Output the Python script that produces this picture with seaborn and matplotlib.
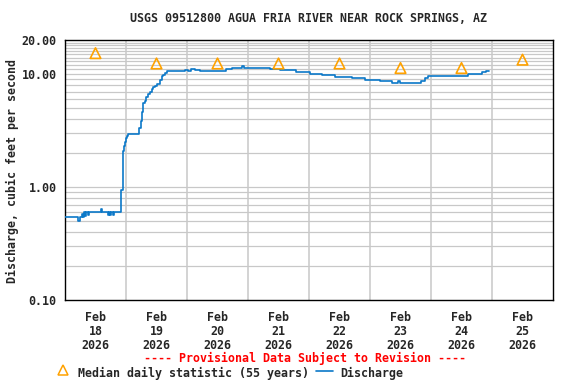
import matplotlib
matplotlib.use("Agg")
import matplotlib.pyplot as plt
from matplotlib.lines import Line2D
import seaborn as sns
import pandas as pd
import numpy as np

# ---- data (hours since Feb 18 2026 00:00) ----
discharge_hours = [0.0, 5.1, 5.9, 6.7, 7.1, 7.5, 7.9, 8.3, 9.1, 9.5, 10.6, 11.0, 14.2, 14.6,
                   16.9, 17.3, 17.7, 18.1, 18.9, 19.3, 22.0, 22.8, 23.2, 23.6, 24.0, 24.4,
                   24.8, 29.1, 29.9, 30.3, 30.7, 31.5, 31.9, 32.7, 33.4, 34.2, 34.6, 35.4,
                   36.2, 37.4, 38.2, 38.6, 39.3, 40.1, 40.5, 44.5, 47.2, 48.4, 49.6, 51.1,
                   53.1, 58.6, 61.0, 63.3, 65.7, 69.6, 70.4, 75.1, 77.5, 80.7, 84.6, 88.5,
                   90.9, 96.4, 101.1, 106.2, 112.9, 118.0, 123.9, 128.6, 130.9, 131.8,
                   138.5, 140.1, 141.6, 142.8, 153.4, 158.6, 164.1, 165.6, 166.8]
discharge_cfs = [0.54, 0.50, 0.54, 0.58, 0.54, 0.60, 0.55, 0.60, 0.56, 0.60, 0.60, 0.60, 0.64, 0.60,
                 0.56, 0.60, 0.56, 0.60, 0.56, 0.60, 0.94, 2.1, 2.3, 2.5, 2.7, 2.8,
                 2.95, 3.3, 3.8, 4.6, 5.5, 5.8, 6.2, 6.7, 7.0, 7.3, 7.6, 7.9,
                 8.2, 8.9, 9.6, 9.9, 10.3, 10.6, 10.7, 10.7, 10.9, 10.7, 11.1, 10.8,
                 10.6, 10.7, 10.7, 11.1, 11.4, 11.7, 11.4, 11.4, 11.2, 11.0, 10.8, 10.8,
                 10.4, 10.1, 9.8, 9.5, 9.2, 8.9, 8.7, 8.4, 8.7, 8.3,
                 8.3, 8.6, 9.3, 9.6, 9.6, 10.0, 10.4, 10.6, 10.7]
median_hours = [12, 36, 60, 84, 108, 132, 156, 180]
median_cfs = [15.3, 12.4, 12.4, 12.4, 12.4, 11.3, 11.3, 13.4]
day_labels = ["Feb\n18\n2026", "Feb\n19\n2026", "Feb\n20\n2026", "Feb\n21\n2026",
              "Feb\n22\n2026", "Feb\n23\n2026", "Feb\n24\n2026", "Feb\n25\n2026"]
y_tick_values = [0.1, 1.0, 10.0, 20.0]
y_tick_labels = ["0.10", "1.00", "10.00", "20.00"]

sns.set_style("white")
plt.rcParams["font.family"] = ["DejaVu Sans Mono"]
plt.rcParams["font.weight"] = "bold"
FS = 8.4

W, H = 576, 384
fig = plt.figure(figsize=(W / 100, H / 100), dpi=100)
ax = fig.add_axes([65 / W, 1 - 300 / H, 488 / W, 260 / H])

BLUE = "#0b78c8"
ORANGE = "#ffa200"
GRID = "#c8c8c8"

ax.set_yscale("log")
ax.set_ylim(0.1, 20)
ax.set_xlim(0, 192)

# grid
minor = [v * d for d in (0.1, 1.0) for v in range(2, 10)] + list(range(11, 20))
for v in minor + [1.0, 10.0]:
    ax.axhline(v, color=GRID, lw=0.9, zorder=0)
for d in range(1, 8):
    ax.axvline(d * 24, color=GRID, lw=1.1, zorder=0)

df = pd.DataFrame({"hours": discharge_hours, "cfs": discharge_cfs})
sns.lineplot(data=df, x="hours", y="cfs", ax=ax, color=BLUE, lw=1.2,
             drawstyle="steps-post", zorder=3)

md = pd.DataFrame({"hours": median_hours, "cfs": median_cfs})
sns.scatterplot(data=md, x="hours", y="cfs", ax=ax, marker="^", s=58,
                facecolors="none", edgecolor=ORANGE, linewidth=1.2, zorder=4)

ax.set_yticks(y_tick_values)
ax.set_yticklabels(y_tick_labels)
ax.yaxis.set_minor_locator(matplotlib.ticker.NullLocator())
ax.set_xticks(median_hours)
ax.set_xticklabels(day_labels, linespacing=1.1)
ax.tick_params(axis="both", length=0, labelsize=FS)
ax.tick_params(axis="y", pad=6)
ax.tick_params(axis="x", pad=8)
for lab in ax.get_xticklabels() + ax.get_yticklabels():
    lab.set_fontweight("bold")
ax.set_xlabel("")
ax.set_ylabel("")
for s in ax.spines.values():
    s.set_color("black")
    s.set_linewidth(1.0)

fig.text(308 / W, 1 - 19 / H, "USGS 09512800 AGUA FRIA RIVER NEAR ROCK SPRINGS, AZ",
         ha="center", va="center", fontsize=FS, fontweight="bold")
fig.text(12 / W, 1 - 171 / H, "Discharge, cubic feet per second", rotation=90,
         ha="center", va="center", fontsize=FS, fontweight="bold")
fig.text(305 / W, 1 - 358 / H, "---- Provisional Data Subject to Revision ----",
         ha="center", va="center", fontsize=FS, fontweight="bold", color="red")

# legend row
fig.add_artist(Line2D([63 / W], [1 - 370 / H], marker="^", markersize=7.5,
                      markerfacecolor="none", markeredgecolor=ORANGE, mew=1.1,
                      linestyle="none", transform=fig.transFigure))
fig.text(78 / W, 1 - 373 / H, "Median daily statistic (55 years)", ha="left",
         va="center", fontsize=FS, fontweight="bold")
fig.add_artist(Line2D([316 / W, 333 / W], [1 - 371 / H, 1 - 371 / H], color=BLUE,
                      lw=1.2, transform=fig.transFigure))
fig.text(340 / W, 1 - 373 / H, "Discharge", ha="left", va="center", fontsize=FS,
         fontweight="bold")

fig.savefig("out.png", dpi=100)
